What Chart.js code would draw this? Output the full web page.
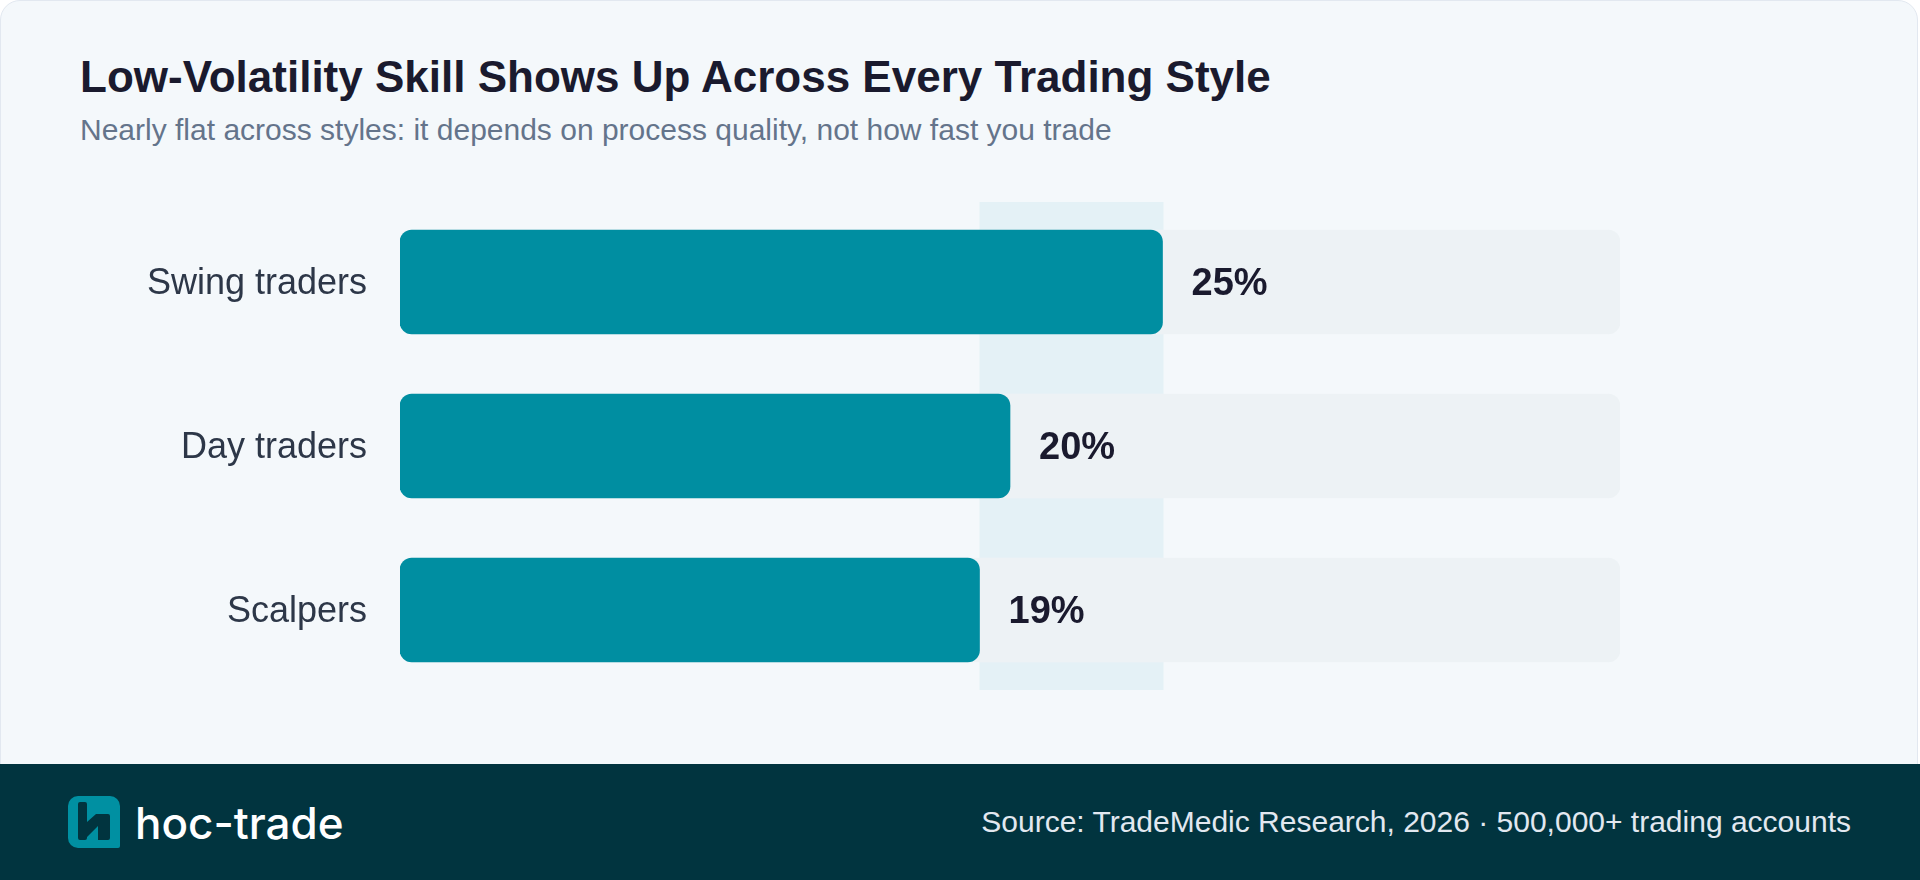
<!DOCTYPE html>
<html>
<head>
<meta charset="utf-8">
<script src="https://cdn.jsdelivr.net/npm/chart.js@4/dist/chart.umd.min.js"></script>
<style>
  html, body { margin: 0; padding: 0; width: 1920px; height: 880px; overflow: hidden; background: #ffffff; font-family: "Liberation Sans", Arial, sans-serif; }
  #card { position: absolute; left: 0; top: 0; width: 1918px; height: 900px; background: #F4F8FB; border: 1px solid #E2E8F0; border-radius: 20px; box-sizing: border-box; }
  #title { position: absolute; left: 80px; top: 55px; font-size: 44px; line-height: 44px; font-weight: bold; color: #1A1A2E; white-space: nowrap; }
  #subtitle { position: absolute; left: 80px; top: 115px; font-size: 30px; line-height: 30px; color: #64748B; white-space: nowrap; }
  #footer { position: absolute; left: 0; top: 764px; width: 1920px; height: 116px; background: #01343F; }
  #logoText { position: absolute; left: 135px; top: 801px; font-family: Inter, "Liberation Sans", sans-serif; font-weight: 500; font-size: 44px; line-height: 44px; color: #ffffff; white-space: nowrap; }
  #source { position: absolute; right: 69px; top: 807px; font-size: 30px; line-height: 30px; color: #E2E8F0; white-space: nowrap; }
  #logoIcon { position: absolute; left: 68px; top: 796px; }
  #chart { position: absolute; left: 0; top: 0; }
</style>
</head>
<body>
<div id="card"></div>
<div id="title">Low-Volatility Skill Shows Up Across Every Trading Style</div>
<div id="subtitle">Nearly flat across styles: it depends on process quality, not how fast you trade</div>
<div id="footer"></div>
<svg id="logoIcon" width="52" height="52" viewBox="0 0 52 52">
  <path d="M10 0 H42 A10 10 0 0 1 52 10 V50 A2 2 0 0 1 50 52 H10 A10 10 0 0 1 0 42 V10 A10 10 0 0 1 10 0 Z" fill="#0090A2"/>
  <path d="M10 8 A2 2 0 0 1 12 6 H17 A2 2 0 0 1 19 8 V26 L28 18 H40 A2 2 0 0 1 42 20 V42 A2 2 0 0 1 40 44 H30 V30 L19 41 V42 A2 2 0 0 1 17 44 H12 A2 2 0 0 1 10 42 Z" fill="#01343F"/>
</svg>
<div id="logoText">hoc-trade</div>
<div id="source">Source: TradeMedic Research, 2026 · 500,000+ trading accounts</div>
<canvas id="chart" width="1920" height="880"></canvas>
<script>
const categories = ['Swing traders', 'Day traders', 'Scalpers'];
const values = [25, 20, 19];
const trackValues = [40, 40, 40];
const axisMin = 0;
const axisMax = 40;

const barColor = '#008EA1';
const trackColor = '#EDF2F5';
const bandColor = '#E4F1F6';

const bandPlugin = {
  id: 'band',
  beforeDatasetsDraw(chart) {
    const { ctx, chartArea, scales } = chart;
    const x0 = scales.x.getPixelForValue(Math.min(...values));
    const x1 = scales.x.getPixelForValue(Math.max(...values));
    ctx.save();
    ctx.fillStyle = bandColor;
    ctx.fillRect(x0, chartArea.top + 2, x1 - x0 + 1, chartArea.bottom - chartArea.top - 4);
    ctx.restore();
  }
};

const labelPlugin = {
  id: 'labels',
  afterDatasetsDraw(chart) {
    const { ctx, scales } = chart;
    const meta = chart.getDatasetMeta(0);
    ctx.save();
    // category labels via y scale
    ctx.font = '36px "Liberation Sans", Arial, sans-serif';
    ctx.fillStyle = '#2D3748';
    ctx.textAlign = 'right';
    ctx.textBaseline = 'alphabetic';
    categories.forEach((c, i) => {
      const y = scales.y.getPixelForValue(i);
      ctx.fillText(c, scales.y.right - 33, y + 12);
    });
    // value labels
    ctx.font = 'bold 38px "Liberation Sans", Arial, sans-serif';
    ctx.fillStyle = '#1A1A2E';
    ctx.textAlign = 'left';
    ctx.textBaseline = 'alphabetic';
    meta.data.forEach((bar, i) => {
      ctx.fillText(values[i] + '%', bar.x + 29, bar.y + 13);
    });
    ctx.restore();
  }
};

new Chart(document.getElementById('chart'), {
  type: 'bar',
  data: {
    labels: categories,
    datasets: [
      {
        data: values,
        backgroundColor: barColor,
        borderRadius: 12,
        borderSkipped: false,
        barThickness: 104,
        grouped: false,
        order: 0
      },
      {
        data: trackValues,
        backgroundColor: trackColor,
        borderRadius: 12,
        borderSkipped: false,
        barThickness: 104,
        grouped: false,
        order: 1
      }
    ]
  },
  options: {
    indexAxis: 'y',
    responsive: false,
    devicePixelRatio: 1,
    animation: false,
    layout: { padding: { top: 200, bottom: 188, right: 300, left: 0 } },
    plugins: { legend: { display: false }, tooltip: { enabled: false } },
    scales: {
      x: { min: axisMin, max: axisMax, display: false },
      y: {
        grid: { display: false, drawTicks: false },
        border: { display: false },
        ticks: { display: false },
        afterFit(scale) { scale.width = 400; }
      }
    }
  },
  plugins: [bandPlugin, labelPlugin]
});
</script>
</body>
</html>
